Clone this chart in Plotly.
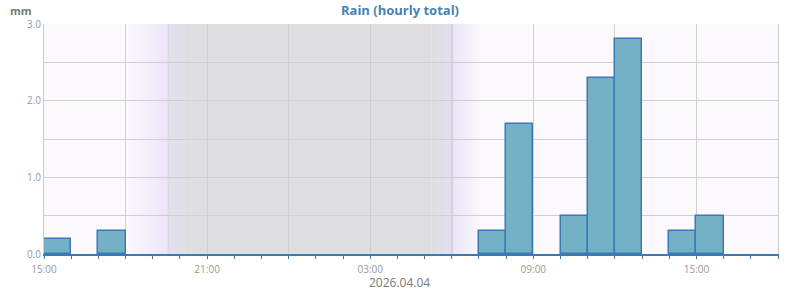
import plotly.graph_objects as go
import pandas as pd

# ---- data ----
hour_start = ["2026-04-03 15:00", "2026-04-03 17:00", "2026-04-04 07:00", "2026-04-04 08:00",
              "2026-04-04 10:00", "2026-04-04 11:00", "2026-04-04 12:00", "2026-04-04 14:00",
              "2026-04-04 15:00"]
rain_mm = [0.2, 0.3, 0.3, 1.7, 0.5, 2.3, 2.8, 0.3, 0.5]

x_range = ["2026-04-03 15:00", "2026-04-04 18:00"]
grid_times = pd.date_range("2026-04-03 15:00", "2026-04-04 18:00", freq="3h")
tick_text = [t.strftime("%H:%M") if (t.hour % 6 == 3) else "" for t in grid_times]
y_ticks = [0.0, 0.5, 1.0, 1.5, 2.0, 2.5, 3.0]
y_text = ["0.0", "", "1.0", "", "2.0", "", "3.0"]
date_label = "2026.04.04"

# twilight / night (sun times)
dusk_start = "2026-04-03 18:03"
sunset = "2026-04-03 19:34"
night_start = "2026-04-03 20:25"
night_end = "2026-04-04 05:15"
sunrise = "2026-04-04 06:02"
dawn_end = "2026-04-04 07:05"

BG = (251, 249, 254)
LAV = (236, 228, 248)
LAVG = (226, 224, 240)
GRAY = (222, 222, 224)

fig = go.Figure()
fig.add_trace(go.Bar(
    x=hour_start, y=rain_mm, width=3600000, offset=0,
    marker=dict(color="#74b1c5", line=dict(color="#3b7bb5", width=1.5)),
    hoverinfo="x+y",
))

shapes = []


def grad(t0, t1, c0, c1, n=30):
    a = pd.Timestamp(t0)
    b = pd.Timestamp(t1)
    for i in range(n):
        f = (i + 0.5) / n
        c = tuple(int(round(c0[k] + (c1[k] - c0[k]) * f)) for k in range(3))
        s = a + (b - a) * i / n
        e = a + (b - a) * min(i + 2, n) / n
        shapes.append(dict(type="rect", xref="x", yref="paper", x0=s, x1=e, y0=0, y1=1,
                           fillcolor="rgb(%d,%d,%d)" % c, line=dict(width=0), layer="below"))


shapes.append(dict(type="rect", xref="x", yref="paper", x0=night_start, x1=night_end, y0=0, y1=1,
                   fillcolor="rgb(%d,%d,%d)" % GRAY, line=dict(width=0), layer="below"))
grad(dusk_start, sunset, BG, LAV)
grad(sunset, night_start, LAVG, GRAY)
grad(night_end, sunrise, GRAY, LAVG)
grad(sunrise, dawn_end, LAV, BG)
for t in [sunset, sunrise]:
    shapes.append(dict(type="line", xref="x", yref="paper", x0=t, x1=t, y0=0, y1=1,
                       line=dict(color="#dcd2da", width=1), layer="below"))

fig.update_layout(
    width=800, height=290,
    margin=dict(l=44, r=22, t=24, b=36, autoexpand=False),
    paper_bgcolor="white",
    plot_bgcolor="rgb(%d,%d,%d)" % BG,
    font=dict(family="Open Sans", size=10, color="#888888"),
    showlegend=False,
    bargap=0,
    shapes=shapes,
    title=dict(text="<b>Rain (hourly total)</b>", x=0.5, xref="container", xanchor="center",
               y=0.965, yref="container", yanchor="middle",
               font=dict(family="Open Sans", size=13, color="#4682b4")),
    annotations=[
        dict(text="<b>mm</b>", xref="paper", yref="paper", x=0, y=1, xshift=-10, yshift=14,
             xanchor="right", yanchor="middle", showarrow=False,
             font=dict(family="Open Sans", size=11, color="#777777")),
        dict(text=date_label, xref="paper", yref="paper", x=0.485, y=0, yshift=-28,
             xanchor="center", yanchor="middle", showarrow=False,
             font=dict(family="Open Sans", size=12, color="#777777")),
    ],
)

fig.update_xaxes(
    type="date", range=x_range,
    tickmode="array", tickvals=grid_times, ticktext=tick_text,
    showgrid=True, gridcolor="#d0cdd2", gridwidth=1,
    ticks="outside", ticklen=3, tickcolor="#3b7bb5",
    minor=dict(dtick=3600000, ticks="outside", ticklen=3, tickcolor="#3b7bb5", showgrid=False),
    showline=True, linecolor="#3b7bb5", linewidth=1.5,
    tickfont=dict(size=10, color="#999999"), ticklabelstandoff=2,
    zeroline=False, fixedrange=True, automargin=False,
)
fig.update_yaxes(
    range=[0, 3.0], tickmode="array", tickvals=y_ticks, ticktext=y_text,
    showgrid=True, gridcolor="#d0cdd2", gridwidth=1,
    showline=True, linecolor="#cccccc", linewidth=1, mirror=True,
    ticks="", tickfont=dict(size=10, color="#999999"),
    zeroline=False, fixedrange=True, automargin=False,
)

fig.write_html("out.html")
